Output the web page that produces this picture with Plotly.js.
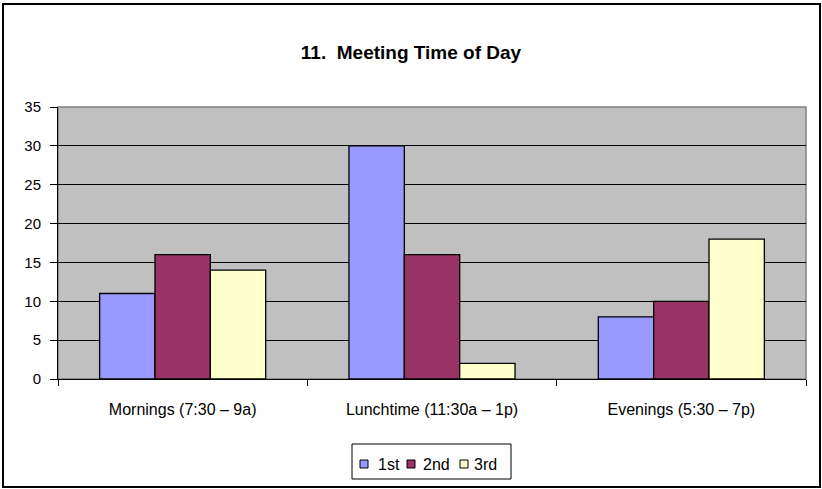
<!DOCTYPE html>
<html>
<head>
<meta charset="utf-8">
<script src="https://cdn.plot.ly/plotly-3.0.1.min.js"></script>
<style>
  html, body { margin: 0; padding: 0; background: #fff; }
  #wrap { position: relative; width: 822px; height: 489px; }
  #chart { width: 822px; height: 489px; }
  #frame { position: absolute; left: 2px; top: 3px; width: 815px; height: 481px;
           border: 2px solid #000; pointer-events: none; }
</style>
</head>
<body>
<div id="wrap">
  <div id="chart"></div>
  <div id="frame"></div>
</div>
<script>
const categories = ["Mornings (7:30 \u2013 9a)", "Lunchtime (11:30a \u2013 1p)", "Evenings (5:30 \u2013 7p)"];
const first = [11, 30, 8];
const second = [16, 16, 10];
const third = [14, 2, 18];
const seriesNames = ["1st", "2nd", "3rd"];
const seriesColors = ["#9999FF", "#993366", "#FFFFCC"];
const yTicks = [0, 5, 10, 15, 20, 25, 30, 35];

const font = "Liberation Sans, Arial, sans-serif";
const seriesValues = [first, second, third];
const traces = seriesValues.map((vals, i) => ({
  type: "bar",
  name: seriesNames[i],
  x: categories,
  y: vals,
  marker: { color: seriesColors[i], line: { color: "#000", width: 1.3 } }
}));

// plot-area geometry (pixels) used to place the hand-drawn legend box
const M = { l: 58, r: 16, t: 107, b: 110 };
const W = 822, H = 489;
const pw = W - M.l - M.r, ph = H - M.t - M.b;
const px = x => (x - M.l) / pw;
const py = y => (H - M.b - y) / ph;

const legendBox = { x0: 352, x1: 511, y0: 444, y1: 479 };
const legendSymX = [360, 407, 460];
const legendTextX = [376, 421, 472];
const legendMidY = 464;

const shapes = [{
  type: "rect", xref: "paper", yref: "paper", x0: 0, x1: 1, y0: 0, y1: 1,
  line: { color: "#808080", width: 1.5 }, fillcolor: "rgba(0,0,0,0)", layer: "below"
}, {
  type: "rect", xref: "paper", yref: "paper",
  x0: px(legendBox.x0), x1: px(legendBox.x1), y0: py(legendBox.y1), y1: py(legendBox.y0),
  line: { color: "#000", width: 1 }, fillcolor: "#fff", layer: "above"
}];
const annotations = [];
seriesNames.forEach((n, i) => {
  shapes.push({
    type: "rect", xref: "paper", yref: "paper",
    x0: px(legendSymX[i]), x1: px(legendSymX[i] + 8),
    y0: py(legendMidY + 4), y1: py(legendMidY - 4),
    line: { color: "#000", width: 1 }, fillcolor: seriesColors[i], layer: "above"
  });
  annotations.push({
    xref: "paper", yref: "paper", x: px(legendTextX[i]), y: py(legendMidY),
    xanchor: "left", yanchor: "middle", showarrow: false, text: n,
    font: { family: font, size: 16, color: "#000" }
  });
});

const layout = {
  width: W, height: H,
  margin: M,
  paper_bgcolor: "#fff",
  plot_bgcolor: "#C0C0C0",
  barmode: "group",
  bargap: 0.334,
  bargroupgap: 0,
  title: { text: "<b>11.  Meeting Time of Day</b>", x: 0.5, xanchor: "center",
           y: 0.892, yanchor: "middle",
           font: { family: font, size: 19, color: "#000" } },
  xaxis: {
    type: "category",
    showgrid: false,
    showline: true, linecolor: "#000", linewidth: 1,
    ticks: "outside", ticklen: 6, tickcolor: "#000",
    tickson: "boundaries",
    ticklabelstandoff: 16,
    tickfont: { family: font, size: 16, color: "#000" },
    fixedrange: true
  },
  yaxis: {
    range: [0, 35],
    tickvals: yTicks,
    ticktext: yTicks.map(String),
    showgrid: true, gridcolor: "#000", gridwidth: 1,
    zeroline: false,
    showline: true, linecolor: "#000", linewidth: 1,
    ticks: "outside", ticklen: 7, tickcolor: "#000",
    ticklabelstandoff: 6,
    tickfont: { family: font, size: 15, color: "#000" },
    fixedrange: true
  },
  shapes: shapes,
  annotations: annotations,
  showlegend: false
};

Plotly.newPlot("chart", traces, layout, { displayModeBar: false, staticPlot: true });
</script>
</body>
</html>
